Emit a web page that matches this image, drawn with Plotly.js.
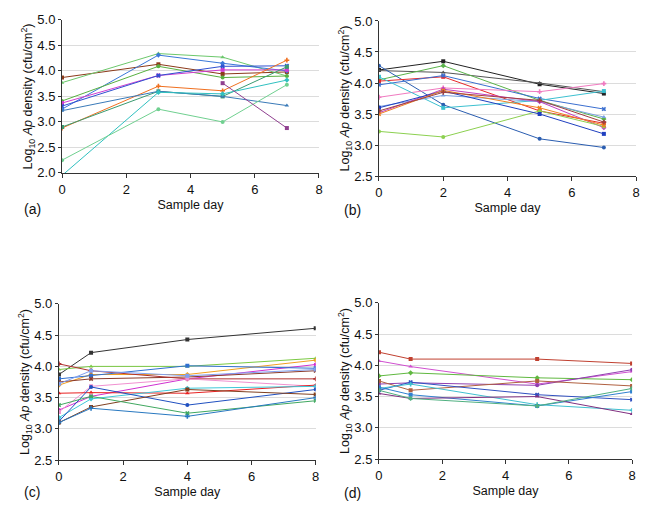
<!DOCTYPE html>
<html>
<head>
<meta charset="utf-8">
<script src="https://cdn.plot.ly/plotly-3.0.1.min.js"></script>
<style>
  body { margin: 0; background: #fff; }
  #c1 { width: 655px; height: 524px; }
</style>
</head>
<body>
<div id="c1"></div>
<script>
// sample days for each panel
var daysA = [0, 3, 5, 7];
var daysB = [0, 2, 5, 7];
var daysC = [0, 1, 4, 8];
var daysD = [0, 1, 5, 8];

// panel (a) log10 densities
var a1 = [3.87, 4.13, 3.94, 3.98];
var a2 = [3.77, 4.34, 4.27, 3.90];
var a3 = [3.25, 4.31, 4.15, 4.00];
var a4 = [3.41, 4.09, 3.87, 3.90];
var a5 = [3.37, 3.91, 4.02, 4.02];
var a6 = [3.31, 3.91, 4.09, 4.10];
var a7 = [2.88, 3.70, 3.61, 4.21];
var a8 = [2.90, 3.60, 3.50, 4.08];
var a9 = [3.22, 3.60, 3.50, 3.32];
var a10 = [1.95, 3.58, 3.55, 3.82];
var a11 = [2.25, 3.25, 3.00, 3.73];
var a12 = [null, null, 3.76, 2.88];

// panel (b)
var b1 = [4.21, 4.35, 3.98, 3.83];
var b2 = [4.20, 4.17, 4.00, 3.86];
var b3 = [4.05, 4.28, 3.72, 3.42];
var b4 = [4.28, 3.65, 3.10, 2.96];
var b5 = [4.03, 4.10, 3.55, 3.35];
var b6 = [3.97, 4.12, 3.75, 3.58];
var b7 = [3.77, 3.92, 3.86, 3.99];
var b8 = [4.10, 3.60, 3.72, 3.87];
var b9 = [3.62, 3.80, 3.70, 3.45];
var b10 = [3.52, 3.90, 3.70, 3.28];
var b11 = [3.22, 3.13, 3.55, 3.30];
var b12 = [3.60, 3.87, 3.50, 3.18];
var b13 = [3.50, 3.88, 3.60, 3.32];
var b14 = [3.55, 3.85, 3.72, 3.37];

// panel (c)
var c1 = [3.87, 4.22, 4.43, 4.61];
var c2 = [3.95, 4.00, 4.00, 4.13];
var c3 = [3.70, 3.87, 3.87, 4.10];
var c4 = [3.30, 3.52, 3.80, 4.03];
var c5 = [3.80, 3.85, 4.01, 3.97];
var c6 = [3.75, 3.80, 3.83, 3.93];
var c7 = [4.04, 3.93, 3.80, 3.80];
var c8 = [3.27, 3.68, 3.80, 3.68];
var c9 = [3.57, 3.58, 3.57, 3.70];
var c10 = [3.18, 3.48, 3.65, 3.68];
var c11 = [3.12, 3.67, 3.38, 3.63];
var c12 = [3.10, 3.35, 3.63, 3.55];
var c13 = [3.38, 3.52, 3.25, 3.45];
var c14 = [3.10, 3.33, 3.20, 3.50];
var c15 = [3.72, 3.93, 3.85, 3.95];

// panel (d)
var d1 = [4.21, 4.10, 4.10, 4.03];
var d2 = [4.07, 3.98, 3.70, 3.90];
var d3 = [3.83, 3.88, 3.80, 3.77];
var d4 = [3.70, 3.72, 3.68, 3.93];
var d5 = [3.75, 3.60, 3.75, 3.67];
var d6 = [3.60, 3.73, 3.53, 3.45];
var d7 = [3.63, 3.70, 3.37, 3.28];
var d8 = [3.65, 3.53, 3.35, 3.58];
var d9 = [3.55, 3.47, 3.50, 3.22];
var d10 = [3.60, 3.47, 3.35, 3.63];

var seriesA = [a1, a2, a3, a4, a5, a6, a7, a8, a9, a10, a11, a12];
var colorsA = ['#8b3a1a', '#6cc86c', '#3a78d8', '#58b040', '#d03cd0', '#3050d0',
               '#f07020', '#3a9a70', '#3a7ab8', '#30c0c0', '#70d090', '#904090'];
var seriesB = [b1, b2, b3, b4, b5, b6, b7, b8, b9, b10, b11, b12, b13, b14];
var colorsB = ['#222222', '#555555', '#5ab34a', '#2a5db0', '#e8282a', '#3b6fd0', '#f07ac0',
               '#3cc0d0', '#7aa0e0', '#c040c0', '#8cd050', '#2040c0', '#f08020', '#a04040'];
var seriesC = [c1, c2, c3, c4, c5, c6, c7, c8, c9, c10, c11, c12, c13, c14, c15];
var colorsC = ['#333333', '#7ac943', '#f0a020', '#d030d0', '#3070d0', '#8b3a2a', '#b03030', '#f090d0',
               '#e82020', '#40c8d8', '#2050c0', '#804020', '#40a860', '#2878c0', '#80a0f0'];
var seriesD = [d1, d2, d3, d4, d5, d6, d7, d8, d9, d10];
var colorsD = ['#c04030', '#d050d0', '#60b840', '#9040b0', '#b06040',
               '#3050c0', '#40c0d0', '#3080d0', '#803080', '#50b080'];

var symbols = ['square', 'triangle-up', 'diamond', 'circle', 'square', 'x', 'cross'];

var data = [];
function addPanel(days, series, colors, xa, ya) {
	for (var i = 0; i < series.length; i++) {
		data.push({
			x: days,
			y: series[i],
			xaxis: xa,
			yaxis: ya,
			mode: 'lines+markers',
			type: 'scatter',
			showlegend: false,
			line: {color: colors[i], width: 1},
			marker: {color: colors[i], size: 4, symbol: symbols[i % symbols.length]}
		});
	}
}
addPanel(daysA, seriesA, colorsA, 'x', 'y');
addPanel(daysB, seriesB, colorsB, 'x2', 'y2');
addPanel(daysC, seriesC, colorsC, 'x3', 'y3');
addPanel(daysD, seriesD, colorsD, 'x4', 'y4');

var tickFont = {family: 'Liberation Sans, Arial, sans-serif', size: 13, color: '#111'};
var titleFont = {family: 'Liberation Sans, Arial, sans-serif', size: 12.5, color: '#111'};
var ytitle = 'Log<sub>10</sub> <i>Ap</i> density (cfu/cm<sup>2</sup>)';

function xax(dom, anchor) {
	return {
		domain: dom, anchor: anchor, range: [0, 8], dtick: 2, tick0: 0,
		showline: true, linecolor: '#333', linewidth: 1,
		ticks: 'outside', ticklen: 4, tickcolor: '#333',
		showgrid: false, zeroline: false, tickfont: tickFont,
		title: {text: 'Sample day', font: titleFont, standoff: 4}
	};
}
function yax(dom, anchor, lo) {
	return {
		domain: dom, anchor: anchor, range: [lo, 5], dtick: 0.5, tick0: 0,
		tickformat: '.1f',
		showline: true, linecolor: '#333', linewidth: 1,
		ticks: 'outside', ticklen: 3, tickcolor: '#333',
		showgrid: true, gridcolor: '#dcdcdc', gridwidth: 1,
		zeroline: false, tickfont: tickFont,
		title: {text: ytitle, font: titleFont, standoff: 1}
	};
}

var layout = {
	width: 655,
	height: 524,
	margin: {l: 0, r: 0, t: 0, b: 0},
	paper_bgcolor: '#fff',
	plot_bgcolor: '#fff',
	xaxis: xax([0.0947, 0.487], 'y'),
	yaxis: yax([0.670, 0.962], 'x', 2),
	xaxis2: xax([0.5786, 0.971], 'y2'),
	yaxis2: yax([0.664, 0.960], 'x2', 2.5),
	xaxis3: xax([0.090, 0.482], 'y3'),
	yaxis3: yax([0.122, 0.420], 'x3', 2.5),
	xaxis4: xax([0.5786, 0.965], 'y4'),
	yaxis4: yax([0.124, 0.422], 'x4', 2.5),
	annotations: [
		{text: '(a)', x: 22, y: 209},
		{text: '(b)', x: 342, y: 210},
		{text: '(c)', x: 22, y: 492},
		{text: '(d)', x: 342, y: 493}
	].map(function(a) {
		return {text: a.text, xref: 'paper', yref: 'paper', x: a.x / 655, y: 1 - a.y / 524,
			xanchor: 'left', yanchor: 'middle', showarrow: false,
			font: {family: 'Liberation Sans, Arial, sans-serif', size: 14, color: '#111'}};
	})
};

Plotly.newPlot('c1', data, layout, {displayModeBar: false, staticPlot: true});
</script>
</body>
</html>
